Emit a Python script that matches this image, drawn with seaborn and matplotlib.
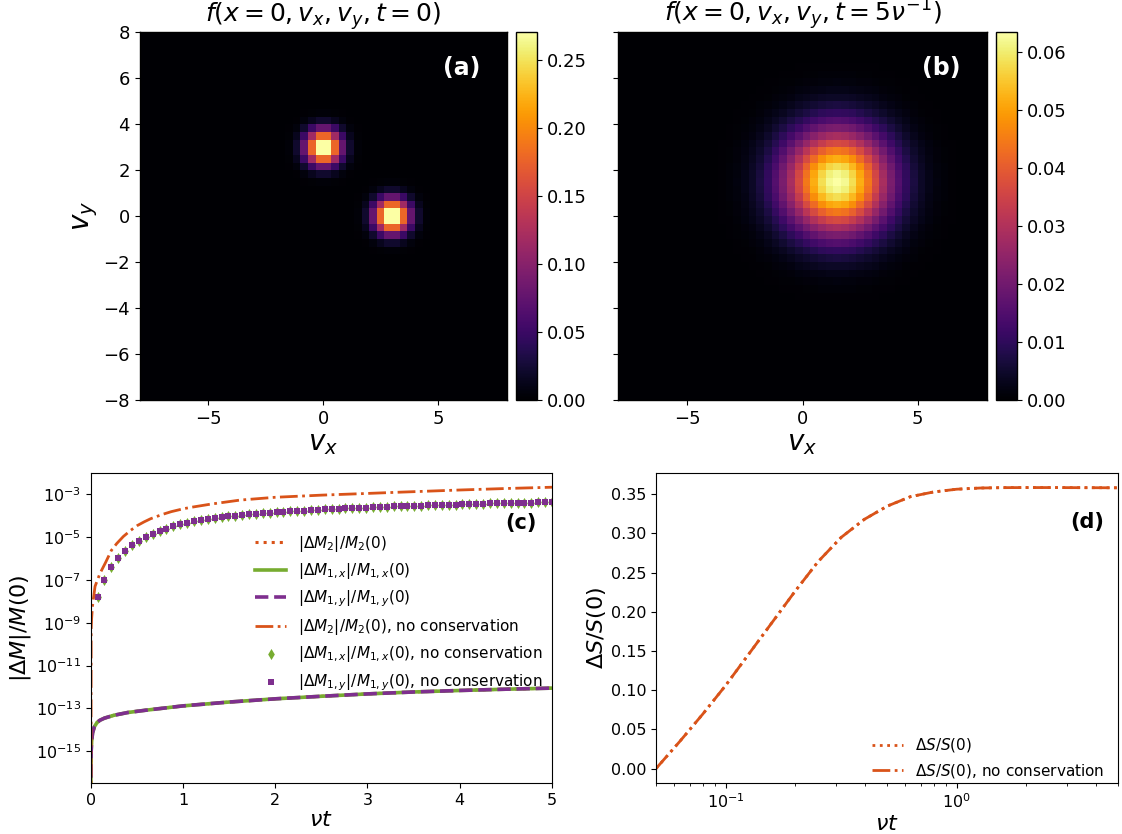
import numpy as np
import pandas as pd
import matplotlib
matplotlib.use("Agg")
import matplotlib.pyplot as plt
from matplotlib.ticker import NullLocator, FixedLocator, FormatStrFormatter
import seaborn as sns

# ---------------- data ----------------
# velocity grid (cells of width 1/3 between -8 and 8)
v_edges_lo, v_edges_hi, n_cells = -8.0, 8.0, 48
# panel (a): two drifting Maxwellians at t = 0
blob_vx = [0.0, 3.0]
blob_vy = [3.0, 0.0]
blob_sigma = [0.515, 0.515]
blob_mass = [0.5, 0.5]
# panel (b): relaxed Maxwellian at t = 5/nu
final_vx = [1.5]
final_vy = [1.5]
final_sigma = [1.585]
final_mass = [1.0]

# panel (c): relative moment errors (log10 values; -30 stands for an exact zero at t = 0)
t_m2_nc = [0.0, 0.005, 0.01, 0.02, 0.047, 0.1, 0.163, 0.224, 0.282, 0.354, 0.434,
           0.505, 0.578, 0.65, 0.777, 0.874, 1.01, 1.1, 1.3, 1.62, 2.0, 2.5, 3.0,
           3.36, 4.0, 4.5, 5.0]
log_m2_nc = [-30, -9.3, -8.8, -8.2, -7.3, -6.7, -6.17, -5.62, -5.3, -4.97, -4.68,
             -4.46, -4.29, -4.14, -3.94, -3.81, -3.67, -3.60, -3.46, -3.27, -3.14,
             -3.04, -2.96, -2.90, -2.80, -2.73, -2.67]

t_cons = [0.0, 0.002, 0.005, 0.01, 0.02, 0.04, 0.07, 0.1, 0.15, 0.25, 0.4, 0.6,
          0.8, 1.0, 1.5, 2.0, 2.5, 3.0, 3.5, 4.0, 4.5, 5.0]
log_m1_cons = [-30, -15.8, -15.0, -14.55, -14.15, -13.85, -13.65, -13.55, -13.45,
               -13.32, -13.19, -13.08, -12.98, -12.88, -12.70, -12.55, -12.43,
               -12.32, -12.23, -12.16, -12.10, -12.05]
log_m2_cons = log_m1_cons

t_marks = list(np.round(np.arange(1, 68) * 5.0 / 67, 4))
log_m1_nc = [-7.80, -6.98, -6.40, -5.96, -5.64, -5.37, -5.16, -4.99, -4.84, -4.71,
             -4.60, -4.50, -4.41, -4.34, -4.27, -4.21, -4.16, -4.11, -4.07, -4.03,
             -4.00, -3.97, -3.94, -3.91, -3.88, -3.86, -3.84, -3.82, -3.80, -3.78,
             -3.76, -3.74, -3.72, -3.71, -3.69, -3.68, -3.66, -3.65, -3.63, -3.62,
             -3.61, -3.59, -3.58, -3.57, -3.56, -3.55, -3.54, -3.53, -3.52, -3.51,
             -3.50, -3.49, -3.48, -3.47, -3.46, -3.45, -3.44, -3.43, -3.43, -3.42,
             -3.41, -3.40, -3.39, -3.39, -3.38, -3.37, -3.36]

# panel (d): relative entropy change
t_s = [0.05, 0.0631, 0.0794, 0.1, 0.1259, 0.1585, 0.1995, 0.2512, 0.3162, 0.3981,
       0.5012, 0.631, 0.7943, 1.0, 1.2589, 1.5849, 1.9953, 2.5119, 3.1623, 3.9811, 5.0]
ds_nc = [0.0, 0.034, 0.069, 0.106, 0.146, 0.186, 0.226, 0.264, 0.295, 0.318,
         0.335, 0.347, 0.353, 0.3565, 0.358, 0.3585, 0.3586, 0.3586, 0.3585, 0.3584,
         0.3583]
ds_cons = ds_nc

c_orange = "#D95319"
c_green = "#77AC30"
c_purple = "#7E2F8E"

# --------------- figure ---------------
fig = plt.figure(figsize=(11.22, 8.34), dpi=100)
H = 834.0
W = 1122.0


def rect(l, r, t, b):
    return [l / W, (H - b) / H, (r - l) / W, (b - t) / H]


ax_a = fig.add_axes(rect(139.5, 507, 32.3, 400))
cax_a = fig.add_axes(rect(516, 537.3, 32.3, 400))
ax_b = fig.add_axes(rect(618.3, 986.7, 32.3, 400))
cax_b = fig.add_axes(rect(995.7, 1017.3, 32.3, 400))
ax_c = fig.add_axes(rect(90.7, 552, 473.3, 783))
ax_d = fig.add_axes(rect(656, 1118.3, 473.3, 783))

step = (v_edges_hi - v_edges_lo) / n_cells
centers = v_edges_lo + (np.arange(n_cells) + 0.5) * step
VX, VY = np.meshgrid(centers, centers[::-1])  # row 0 = top (vy = +8)


def maxwellians(cx, cy, sig, mass):
    f = np.zeros_like(VX)
    for x0, y0, s, m in zip(cx, cy, sig, mass):
        f += m / (2 * np.pi * s ** 2) * np.exp(-((VX - x0) ** 2 + (VY - y0) ** 2) / (2 * s ** 2))
    return f


f_a = pd.DataFrame(maxwellians(blob_vx, blob_vy, blob_sigma, blob_mass))
f_b = pd.DataFrame(maxwellians(final_vx, final_vy, final_sigma, final_mass))

tick_fs = 13
for ax, cax, f, title, lab in [
    (ax_a, cax_a, f_a, r"$f(x=0, v_x, v_y, t=0)$", "(a)"),
    (ax_b, cax_b, f_b, r"$f(x=0, v_x, v_y, t=5\nu^{-1})$", "(b)"),
]:
    sns.heatmap(f, ax=ax, cmap="inferno", vmin=0, cbar_ax=cax,
                xticklabels=False, yticklabels=False)
    for s in ax.spines.values():
        s.set_visible(True)
        s.set_linewidth(1.0)
    ax.set_xticks([(v - v_edges_lo) / step for v in [-5, 0, 5]])
    ax.set_xticklabels(["\u22125", "0", "5"], fontsize=tick_fs)
    yv = list(range(-8, 9, 2))
    ax.set_yticks([(v_edges_hi - v) / step for v in yv])
    ax.set_yticklabels([("\u2212%d" % -v) if v < 0 else "%d" % v for v in yv],
                       fontsize=tick_fs, rotation=0)
    ax.tick_params(axis="both", length=3.5, width=0.8, direction="out")
    ax.set_title(title, fontsize=18, pad=0.5)
    ax.set_xlabel(r"$v_x$", fontsize=20, labelpad=1)
    ax.text(0.877, 0.902, lab, transform=ax.transAxes, color="white",
            fontsize=17, fontweight="bold", ha="center", va="center")
    cb = ax.collections[0].colorbar
    cb.outline.set_linewidth(1.0)
    cb.outline.set_visible(True)
    cax.tick_params(labelsize=tick_fs, length=3.5, width=0.8)
    cax.yaxis.set_major_formatter(FormatStrFormatter("%.2f"))

ax_a.set_ylabel(r"$v_y$", fontsize=20, labelpad=2)
ax_b.set_ylabel("")
ax_b.tick_params(axis="y", labelleft=False)
cax_a.set_yticks([0, 0.05, 0.10, 0.15, 0.20, 0.25])
cax_b.set_yticks([0, 0.01, 0.02, 0.03, 0.04, 0.05, 0.06])

# --------------- panel (c) ---------------
p10 = lambda a: 10.0 ** np.asarray(a, dtype=float)
sns.lineplot(x=t_cons, y=p10(log_m2_cons), ax=ax_c, color=c_orange, linestyle=":",
             linewidth=2.2, label=r"$|\Delta M_2|/M_2(0)$")
sns.lineplot(x=t_cons, y=p10(log_m1_cons), ax=ax_c, color=c_green, linestyle="-",
             linewidth=2.6, label=r"$|\Delta M_{1,x}|/M_{1,x}(0)$")
sns.lineplot(x=t_cons, y=p10(log_m1_cons), ax=ax_c, color=c_purple, linestyle="--",
             linewidth=2.6, label=r"$|\Delta M_{1,y}|/M_{1,y}(0)$")
sns.lineplot(x=t_m2_nc, y=p10(log_m2_nc), ax=ax_c, color=c_orange, linestyle="-.",
             linewidth=2.0, label=r"$|\Delta M_2|/M_2(0)$, no conservation")
sns.scatterplot(x=t_marks, y=p10(log_m1_nc), ax=ax_c, color=c_green, marker="d",
                s=32, linewidth=0, label=r"$|\Delta M_{1,x}|/M_{1,x}(0)$, no conservation")
sns.scatterplot(x=t_marks, y=p10(log_m1_nc), ax=ax_c, color=c_purple, marker="s",
                s=22, linewidth=0, label=r"$|\Delta M_{1,y}|/M_{1,y}(0)$, no conservation")
ax_c.set_yscale("log")
ax_c.set_xlim(0, 5)
ax_c.set_ylim(10 ** -16.48, 10 ** -2.02)
ax_c.yaxis.set_major_locator(FixedLocator([10.0 ** k for k in range(-15, -2, 2)]))
ax_c.yaxis.set_minor_locator(NullLocator())
ax_c.set_xticks([0, 1, 2, 3, 4, 5])
ax_c.tick_params(labelsize=11.5)
ax_c.set_xlabel(r"$\nu t$", fontsize=16, labelpad=2)
ax_c.set_ylabel(r"$|\Delta M|/M(0)$", fontsize=16, labelpad=2)
ax_c.text(0.933, 0.838, "(c)", transform=ax_c.transAxes, fontsize=15,
          fontweight="bold", ha="center", va="center")
ax_c.legend(loc="upper right", bbox_to_anchor=(1.01, 0.85), frameon=False,
            fontsize=11, handlelength=2.0, labelspacing=0.5)

# --------------- panel (d) ---------------
sns.lineplot(x=t_s, y=ds_cons, ax=ax_d, color=c_orange, linestyle=":", linewidth=2.0,
             label=r"$\Delta S/S(0)$")
sns.lineplot(x=t_s, y=ds_nc, ax=ax_d, color=c_orange, linestyle="-.", linewidth=2.0,
             label=r"$\Delta S/S(0)$, no conservation")
ax_d.set_xscale("log")
ax_d.set_xlim(0.05, 5.0)
ax_d.set_ylim(-0.0184, 0.3768)
ax_d.set_yticks([0, 0.05, 0.10, 0.15, 0.20, 0.25, 0.30, 0.35])
ax_d.yaxis.set_major_formatter(FormatStrFormatter("%.2f"))
ax_d.tick_params(labelsize=11.5)
ax_d.set_xlabel(r"$\nu t$", fontsize=16, labelpad=2)
ax_d.set_ylabel(r"$\Delta S/S(0)$", fontsize=16, labelpad=2)
ax_d.text(0.932, 0.843, "(d)", transform=ax_d.transAxes, fontsize=15,
          fontweight="bold", ha="center", va="center")
ax_d.legend(loc="lower right", frameon=False, fontsize=11, handlelength=2.0,
            bbox_to_anchor=(1.0, -0.035))

fig.savefig("out.png", dpi=100)
